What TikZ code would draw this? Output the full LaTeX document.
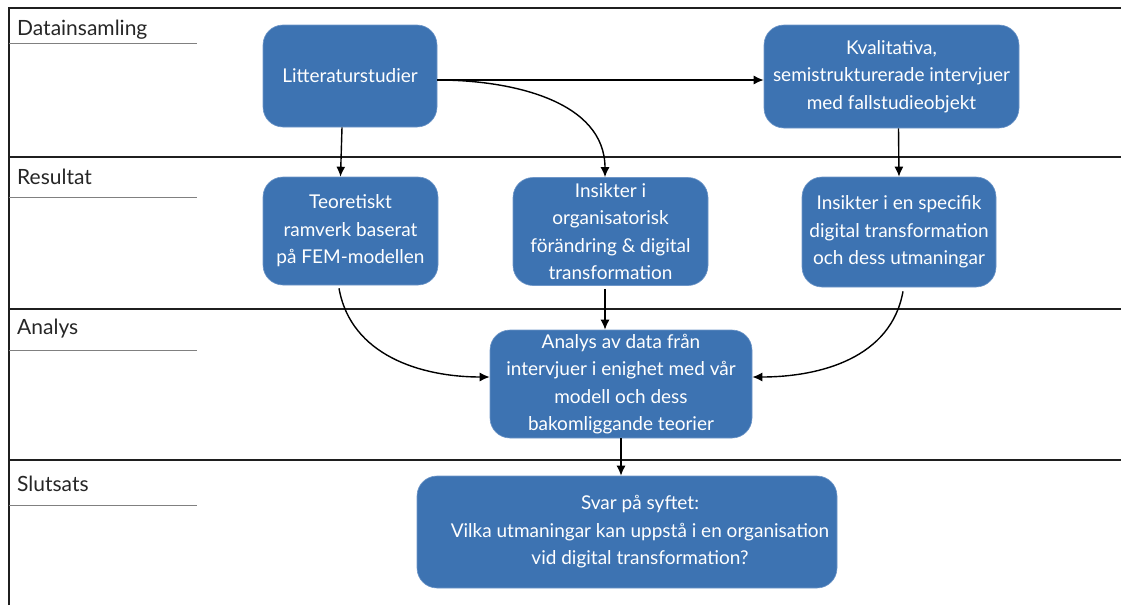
\documentclass[tikz,border=0pt]{standalone}
\usepackage{fontspec}
\setmainfont{Lato}
\usetikzlibrary{arrows.meta}
\definecolor{boxblue}{RGB}{61,115,178}
\definecolor{boxedge}{RGB}{110,150,200}
\tikzset{
  box/.style={draw=boxedge, line width=0.6pt, fill=boxblue, rounded corners=20pt, text=white,
    align=center, font=\fontsize{19}{27.5}\selectfont, inner sep=0pt},
  arr/.style={-{Latex[length=10pt,width=9pt]}, line width=1.4pt, black},
  sepline/.style={line width=1.3pt, black!88},
  lanelab/.style={anchor=base west, font=\fontsize{21}{24}\selectfont, inner sep=0pt, text=black!85},
  uline/.style={line width=0.6pt, black!50}
}
\begin{document}
\begin{tikzpicture}[x=1pt,y=-1pt]
\useasboundingbox (0,0) rectangle (1121,605);
% frame and lanes
\draw[sepline] (9,605) -- (9,8) -- (1121,8);
\draw[sepline] (9,157) -- (1121,157);
\draw[sepline] (9,309) -- (1121,309);
\draw[sepline] (9,460) -- (1121,460);
% lane labels
\node[lanelab] (l1) at (17,35) {Datainsamling};
\node[lanelab] (l2) at (17,184) {Resultat};
\node[lanelab] (l3) at (17,334) {Analys};
\node[lanelab] (l4) at (17,491) {Slutsats};
\draw[uline] (9,43) -- (197,43);
\draw[uline] (9,197) -- (197,197);
\draw[uline] (9,350) -- (197,350);
\draw[uline] (9,505) -- (197,505);
% boxes
\node[box, minimum width=174pt, minimum height=102pt] (lit) at (350,76) {Litteraturstudier};
\node[box, minimum width=255pt, minimum height=103pt] (kval) at (891.5,76.5) {Kvalitativa,\\semistrukturerade intervjuer\\med fallstudieobjekt};
\node[box, minimum width=175pt, minimum height=108pt] (teo) at (350.5,231) {Teoretiskt\\ramverk baserat\\på FEM-modellen};
\node[box, minimum width=195pt, minimum height=108pt] (ins1) at (610.5,231.5) {Insikter i\\organisatorisk\\förändring \& digital\\transformation};
\node[box, minimum width=194pt, minimum height=110pt] (ins2) at (899,232) {Insikter i en specifik\\digital transformation\\och dess utmaningar};
\node[box, minimum width=262pt, minimum height=108pt] (ana) at (621,384) {Analys av data från\\intervjuer i enighet med vår\\modell och dess\\bakomliggande teorier};
\node[box, minimum width=420pt, minimum height=112pt] (svar) at (627,532) {};
\begin{scope}
\clip[rounded corners=20pt] (svar.south west) rectangle (svar.north east);
\node[text=white, align=center, font=\fontsize{19}{27.5}\selectfont, inner sep=0pt] (svartext) at (640,532) {Svar på syftet:\\Vilka utmaningar kan uppstå i en organisation\\vid digital transformation?};
\end{scope}
% connectors
\draw[arr] ([xshift=-8pt]lit.south) -- ([xshift=-10pt]teo.north);
\draw[arr] ([yshift=-4pt]lit.east) -- ([yshift=-3.5pt]kval.west);
\draw[arr] ([yshift=-4pt]lit.east) to[out=0,in=90] ([xshift=-5.5pt]ins1.north);
\draw[arr] ([xshift=7pt]kval.south) -- (ins2.north);
\draw[arr] ([xshift=-5.5pt,yshift=-3pt]ins1.south) -- ([xshift=-16pt]ana.north);
\draw[arr] ([xshift=-11.5pt,yshift=-3pt]teo.south) to[out=-80,in=180] ([yshift=7pt]ana.west);
\draw[arr] ([xshift=4pt,yshift=-4pt]ins2.south) to[out=-100,in=0] ([yshift=7pt]ana.east);
\draw[arr] (ana.south) -- ([xshift=-6pt]svar.north);
\end{tikzpicture}
\end{document}
